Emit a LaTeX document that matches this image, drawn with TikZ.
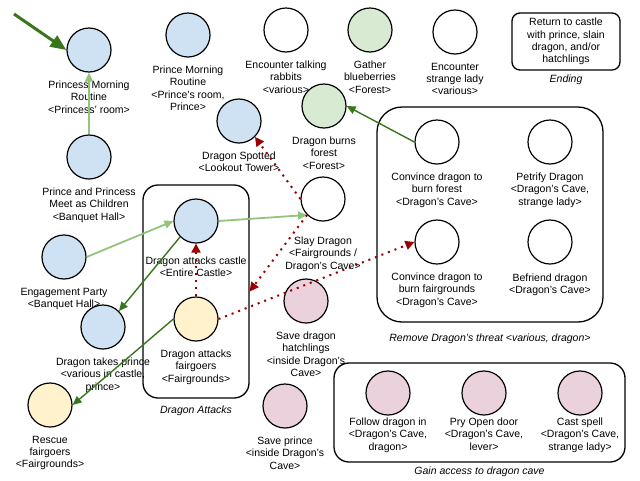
\documentclass[tikz,border=0pt]{standalone}
\usepackage{fontspec}
\setmainfont{Liberation Sans}
\usetikzlibrary{arrows.meta}

\definecolor{nodeblue}{HTML}{CFE2F3}
\definecolor{nodegreen}{HTML}{D9EAD3}
\definecolor{nodeyellow}{HTML}{FFF2CC}
\definecolor{nodepink}{HTML}{EAD1DC}
\definecolor{linklight}{HTML}{93C47D}
\definecolor{linkdark}{HTML}{38761D}
\definecolor{linkred}{HTML}{990000}

\begin{document}
\begin{tikzpicture}[x=1pt,y=-1pt,
  every node/.style={font=\fontsize{10.5}{12.3}\selectfont},
  every label/.style={align=center,inner sep=0pt,yshift=-8pt},
  evt/.style={circle,draw,line width=1.2pt,minimum size=44pt,inner sep=0pt},
  grpbox/.style={draw,line width=1.3pt,rounded corners=15pt,inner sep=0pt},
  grp/.style={font=\fontsize{10.5}{12.3}\selectfont\itshape},
  litelink/.style={draw=linklight,line width=1.8pt,-{Triangle[length=9pt,width=8pt]}},
  darklink/.style={draw=linkdark,line width=1.4pt,-{Triangle[length=9pt,width=8pt]}},
  redlink/.style={draw=linkred,line width=2pt,dash pattern=on 2pt off 5pt,-{Triangle[length=9pt,width=9pt,fill=linkred]}},
  startlink/.style={draw=linkdark,line width=3pt,-{Triangle[length=16pt,width=13pt]}}]
\useasboundingbox (0,0) rectangle (640,480);

% group boxes
\node[grpbox,minimum width=106pt,minimum height=213pt,label={[grp,yshift=1pt]below:Dragon Attacks}] (attbox) at (196,291.5) {};
\node[grpbox,rounded corners=25pt,minimum width=226pt,minimum height=215pt,label={[grp,yshift=-3pt]below:Remove Dragon's threat <various, dragon>}] (threatbox) at (490,214.5) {};
\node[grpbox,minimum width=291pt,minimum height=99pt,label={[grp,yshift=4pt]below:Gain access to dragon cave}] (cavebox) at (479.5,412.5) {};
\node[grpbox,rounded corners=8pt,minimum width=108pt,minimum height=57pt,align=center,label={[grp,yshift=4pt]below:Ending}] (ending) at (566,41.5) {Return to castle\\with prince, slain\\dragon, and/or\\hatchlings};

% story events
\node[evt,fill=nodeblue,label=below:{Princess Morning\\Routine\\<Princess' room>}] (princess) at (89,50) {};
\node[evt,fill=nodeblue,label=below:{Prince Morning\\Routine\\<Prince's room,\\Prince>}] (prince) at (188,35) {};
\node[evt,label=below:{Encounter talking\\rabbits\\<various>}] (rabbits) at (286,30) {};
\node[evt,fill=nodegreen,label=below:{Gather\\blueberries\\<Forest>}] (berries) at (370,30) {};
\node[evt,label=below:{Encounter\\strange lady\\<various>}] (lady) at (455,32) {};
\node[evt,fill=nodegreen,label=below:{Dragon burns\\forest\\<Forest>}] (burns) at (324,106) {};
\node[evt,fill=nodeblue,label=below:{Dragon Spotted\\<Lookout Tower>}] (spotted) at (239,121) {};
\node[evt,fill=nodeblue,label=below:{Prince and Princess\\Meet as Children\\<Banquet Hall>}] (meet) at (89,157) {};
\node[evt,fill=nodeblue,label=below:{Engagement Party\\<Banquet Hall>}] (engage) at (64,257) {};
\node[evt,fill=nodeblue,label={[yshift=-5pt]below:{Dragon attacks castle\\<Entire Castle>}}] (castle) at (196,221) {};
\node[evt,fill=nodeyellow,label=below:{Dragon attacks\\fairgoers\\<Fairgrounds>}] (fairgoers) at (196,319) {};
\node[evt,fill=nodeblue,label=below:{Dragon takes prince\\<various in castle,\\prince>}] (taken) at (103,327) {};
\node[evt,fill=nodeyellow,label=below:{Rescue\\fairgoers\\<Fairgrounds>}] (rescue) at (50,405) {};
\node[evt,label={[yshift=-7pt]below:{Slay Dragon\\<Fairgrounds /\\Dragon's Cave>}}] (slay) at (323,199) {};
\node[evt,fill=nodepink,label=below:{Save dragon\\hatchlings\\<inside Dragon's\\Cave>}] (hatch) at (306,301) {};
\node[evt,fill=nodepink,label=below:{Save prince\\<inside Dragon's\\Cave>}] (saveprince) at (285,406) {};

% dragon's threat
\node[evt,label=below:{Convince dragon to\\burn forest\\<Dragon's Cave>}] (convforest) at (437,142) {};
\node[evt,label=below:{Petrify Dragon\\<Dragon's Cave,\\strange lady>}] (petrify) at (550,142) {};
\node[evt,label=below:{Convince dragon to\\burn fairgrounds\\<Dragon's Cave>}] (convfair) at (437,242) {};
\node[evt,label={[yshift=-1pt]below:{Befriend dragon\\<Dragon's Cave>}}] (befriend) at (550,242) {};

% cave access
\node[evt,fill=nodepink,label={[yshift=6pt]below:{Follow dragon in\\<Dragon's Cave,\\dragon>}}] (follow) at (388,393) {};
\node[evt,fill=nodepink,label={[yshift=6pt]below:{Pry Open door\\<Dragon's Cave,\\lever>}}] (pry) at (484,393) {};
\node[evt,fill=nodepink,label={[yshift=6pt]below:{Cast spell\\<Dragon's Cave,\\strange lady>}}] (spell) at (580,393) {};

% links
\coordinate (start) at (14,14);
\draw[startlink] (start) -- (princess.west);
\draw[litelink] (meet.north) -- (princess.south);
\draw[litelink] (engage.east) -- (castle.west);
\draw[litelink] (castle.east) -- (slay.south west);
\draw[darklink] (castle.south west) -- (taken.north east);
\draw[darklink] (fairgoers.west) -- (rescue.east);
\draw[darklink] (convforest.west) -- (burns.east);
\draw[redlink] (slay.west) -- (spotted.south east);
\draw[redlink] (slay.south west) -- (attbox.east);
\draw[redlink] (fairgoers.north) -- (castle.south);
\draw[redlink] (fairgoers.east) -- (convfair.west);
\end{tikzpicture}
\end{document}
